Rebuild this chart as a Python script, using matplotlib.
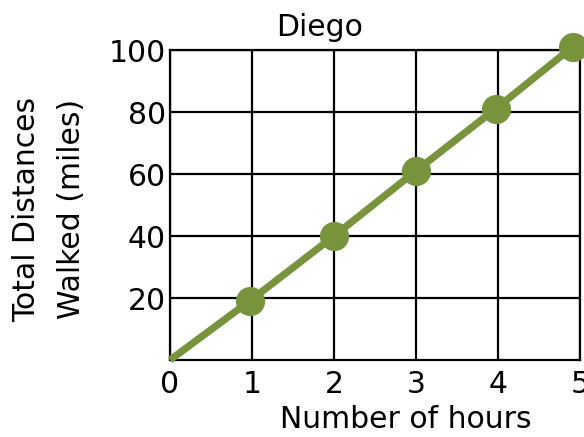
import matplotlib
matplotlib.use('Agg')
import matplotlib.pyplot as plt

# data
hours = [0, 0.97, 2.0, 3.0, 3.97, 4.91]
miles = [0, 19, 40, 61, 81, 101]
marker_hours = hours[1:]
marker_miles = miles[1:]
xticks = [0, 1, 2, 3, 4, 5]
yticks = [20, 40, 60, 80, 100]

green = '#77933c'
fs = 21.5

fig = plt.figure(figsize=(5.84, 4.37), dpi=100)
ax = fig.add_axes([170/584, 1-360/437, 410/584, 310/437])

ax.set_xlim(0, 5)
ax.set_ylim(0, 100)
ax.set_xticks(xticks)
ax.set_yticks(yticks)
ax.grid(True, color='black', linewidth=1.6)
ax.set_axisbelow(True)
for sp in ax.spines.values():
    sp.set_linewidth(1.6)
    sp.set_color('black')
ax.tick_params(length=0, labelsize=fs, pad=7)
ax.tick_params(axis='y', pad=3)

ax.plot(hours, miles, color=green, linewidth=5.2, solid_capstyle='butt', clip_on=False, zorder=3)
ax.plot(marker_hours, marker_miles, 'o', color=green, markersize=20, clip_on=False, zorder=4)

fig.text(320/584, 1-27/437, 'Diego', ha='center', va='center', fontsize=fs)
fig.text(406/584, 1-420/437, 'Number of hours', ha='center', va='center', fontsize=fs)
fig.text(27/584, 1-209/437, 'Total Distances', ha='center', va='center', rotation=90, fontsize=fs)
fig.text(71/584, 1-209/437, 'Walked (miles)', ha='center', va='center', rotation=90, fontsize=fs)

fig.savefig('out.png', dpi=100)
